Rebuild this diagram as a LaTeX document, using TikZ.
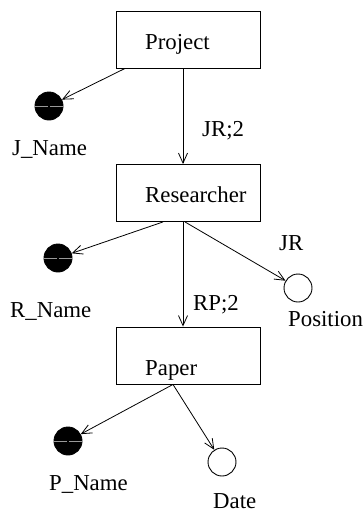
\documentclass[tikz,border=0pt]{standalone}
\usepackage{fontspec}
\setmainfont{Liberation Serif}
\usetikzlibrary{arrows.meta}
\begin{document}
\begin{tikzpicture}[x=1pt,y=-1pt,
  every node/.style={font=\fontsize{22.8}{27}\selectfont},
  entity/.style={draw,line width=0.9pt,minimum width=144pt,minimum height=57pt,inner sep=0pt},
  txt/.style={anchor=base west,inner sep=0pt},
  keyattr/.style={circle,fill=black,draw=black,line width=0.9pt,minimum size=28pt,inner sep=0pt},
  attr/.style={circle,draw=black,fill=white,line width=0.9pt,minimum size=28pt,inner sep=0pt},
  link/.style={line width=0.8pt,-{Straight Barb[length=10pt,width=9pt,line width=0.8pt]}}]
\useasboundingbox (0,0) rectangle (364,512);

% entity boxes
\node[entity] (project) at (188,39.5) {};
\node[entity] (researcher) at (188,193) {};
\node[entity] (paper) at (188,355.5) {};

% entity names
\node[txt] (tproject) at (145,49.3) {Project};
\node[txt] (tresearcher) at (145,202.7) {Researcher};
\node[txt] (tpaper) at (145,375.7) {Paper};

% attributes
\node[keyattr] (jname) at (49,106) {};
\node[keyattr] (rname) at (58,258) {};
\node[attr] (position) at (298,288) {};
\node[keyattr] (pname) at (68,441) {};
\node[attr] (date) at (222,462) {};

% grey bar across the key attributes
\foreach \k in {jname,rname,pname}{
  \draw[gray!80,line width=0.6pt] (\k.west) -- ([xshift=-1pt]\k.center);
  \draw[gray!80,line width=0.6pt] ([xshift=1pt]\k.center) -- (\k.east);
}

% attribute names
\node[txt] (ljname) at (12,155) {J\_Name};
\node[txt] (lrname) at (10,317) {R\_Name};
\node[txt] (lposition) at (288,326.7) {Position};
\node[txt] (lpname) at (49,490.7) {P\_Name};
\node[txt] (ldate) at (213,508.5) {Date};

% relationship labels
\node[txt] (ljr2) at (202,136) {JR;2};
\node[txt] (ljr) at (279,250.7) {JR};
\node[txt] (lrp2) at (193,310) {RP;2};

% connectors
\draw[link] ([xshift=-63pt]project.south) -- (jname);
\draw[link] ([xshift=-5pt]project.south) -- ([xshift=-5pt]researcher.north);
\draw[link] ([xshift=-25pt]researcher.south) -- (rname);
\draw[link] ([xshift=-5pt]researcher.south) -- ([xshift=-5pt]paper.north);
\draw[link] ([xshift=-3pt]researcher.south) -- (position);
\draw[link] ([xshift=-15pt]paper.south) -- (pname);
\draw[link] ([xshift=-15pt]paper.south) -- (date);
\end{tikzpicture}
\end{document}
